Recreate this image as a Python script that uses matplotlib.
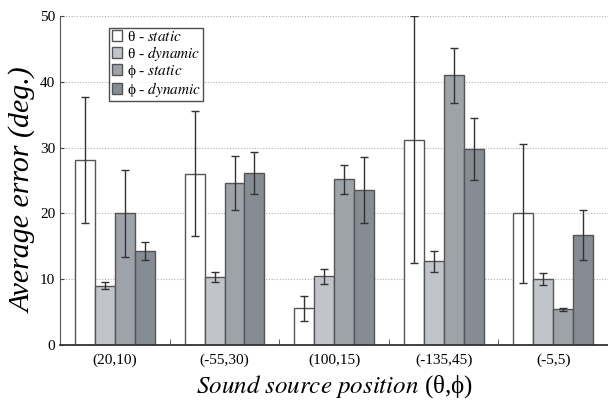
import numpy as np
import matplotlib
matplotlib.use("Agg")
import matplotlib.pyplot as plt

plt.rcParams['font.family'] = ['Liberation Serif', 'DejaVu Serif']
plt.rcParams['mathtext.fontset'] = 'stix'

# sound source positions
positions = ['(20,10)', '(-55,30)', '(100,15)', '(-135,45)', '(-5,5)']

# mean errors (deg.)
theta_static = [28.1, 26.0, 5.6, 31.2, 20.0]
theta_dynamic = [9.0, 10.3, 10.4, 12.7, 10.0]
phi_static = [20.0, 24.6, 25.2, 41.0, 5.4]
phi_dynamic = [14.3, 26.2, 23.6, 29.8, 16.7]

# half-width of error bars
theta_static_err = [9.6, 9.5, 1.9, 18.8, 10.6]
theta_dynamic_err = [0.5, 0.8, 1.2, 1.6, 0.9]
phi_static_err = [6.6, 4.1, 2.2, 4.2, 0.2]
phi_dynamic_err = [1.4, 3.2, 5.0, 4.7, 3.8]

series = [
    (theta_static, theta_static_err, '#ffffff', r'θ - $\mathit{static}$'),
    (theta_dynamic, theta_dynamic_err, '#c1c4c9', r'θ - $\mathit{dynamic}$'),
    (phi_static, phi_static_err, '#9ea3a9', r'ϕ - $\mathit{static}$'),
    (phi_dynamic, phi_dynamic_err, '#868c93', r'ϕ - $\mathit{dynamic}$'),
]

fig = plt.figure(figsize=(6.08, 4.01), dpi=100)
ax = fig.add_axes([0.099, 0.14, 0.901, 0.82])

centers = np.arange(len(positions)) + 0.5
w = 0.182
for i, (vals, errs, col, lab) in enumerate(series):
    x = centers + (i - 1.5) * w
    ax.bar(x, vals, w, color=col, edgecolor='#555555', linewidth=1.0, label=lab, zorder=2)
    ax.errorbar(x, vals, yerr=errs, fmt='none', ecolor='#333333', elinewidth=1.0,
                capsize=3, capthick=1.0, zorder=3)

ax.set_xlim(0, 5)
ax.set_ylim(0, 50)
ax.set_yticks([0, 10, 20, 30, 40, 50])
ax.set_xticks(centers)
ax.set_xticklabels(positions)
ax.set_xticks([1, 2, 3, 4], minor=True)
ax.tick_params(axis='x', which='major', length=0, labelsize=11, pad=6)
ax.tick_params(axis='x', which='minor', direction='in', length=4, color='#444444')
ax.tick_params(axis='y', direction='in', length=3, labelsize=11, color='#444444')

ax.yaxis.grid(True, linestyle=(0, (1, 1.5)), color='#b0b0b0', linewidth=0.8, zorder=0)
ax.set_axisbelow(True)

for s in ['top', 'right']:
    ax.spines[s].set_visible(False)
ax.spines['left'].set_color('#555555')
ax.spines['bottom'].set_color('#333333')
ax.spines['bottom'].set_linewidth(1.3)

ax.set_ylabel('Average error (deg.)', fontsize=21.5, style='italic')
ax.yaxis.set_label_coords(-0.043, 0.47)
ax.set_xlabel(r'$\mathit{Sound\ source\ position}$ (θ,ϕ)', fontsize=18, labelpad=5)

leg = ax.legend(loc='upper left', bbox_to_anchor=(0.09, 0.965), borderaxespad=0,
                fontsize=11, frameon=True, fancybox=False, handlelength=0.7,
                handleheight=0.7, handletextpad=0.3, labelspacing=0.0,
                borderpad=0.15)
leg.get_frame().set_edgecolor('#222222')
leg.get_frame().set_linewidth(1.0)

fig.savefig('out.png', dpi=100)
